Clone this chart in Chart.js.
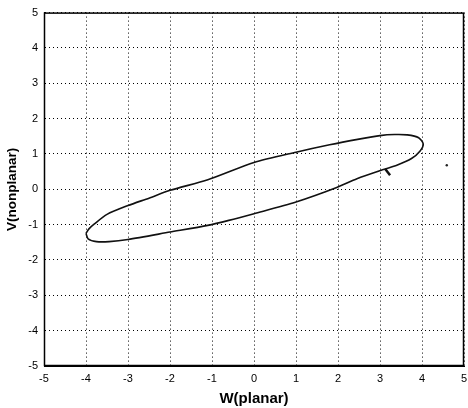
<!DOCTYPE html>
<html>
<head>
<meta charset="utf-8">
<script src="https://cdn.jsdelivr.net/npm/chart.js@4"></script>
<style>
  html, body { margin: 0; padding: 0; background: #fff; }
  #wrap { width: 468px; height: 408px; }
</style>
</head>
<body>
<div id="wrap"><canvas id="myChart"></canvas></div>
<script>
// traced curve, going round from the left end
const ellipseW = [-4.0, -3.93, -3.8, -3.5, -3.0, -2.5, -2.0, -1.1, 0.0, 1.0, 1.8, 2.5, 3.0, 3.35, 3.65, 3.92, 4.03, 3.95, 3.75, 3.4, 3.08, 2.45, 1.97, 1.0, 0.0, -0.6, -1.1, -2.0, -3.0, -3.45, -3.75, -3.95, -4.0];
const ellipseV = [-1.25, -1.12, -0.98, -0.71, -0.46, -0.25, -0.03, 0.27, 0.76, 1.05, 1.26, 1.42, 1.52, 1.55, 1.54, 1.46, 1.28, 1.08, 0.87, 0.68, 0.56, 0.30, 0.05, -0.36, -0.69, -0.88, -1.02, -1.21, -1.42, -1.48, -1.48, -1.40, -1.25];
// small stroke and stray dot
const markW = [3.12, 3.24];
const markV = [0.58, 0.40];
const dotW = [4.59];
const dotV = [0.68];

const xTicks = [-5, -4, -3, -2, -1, 0, 1, 2, 3, 4, 5];
const yTicks = [-5, -4, -3, -2, -1, 0, 1, 2, 3, 4, 5];

function pts(xs, ys) {
  return xs.map((x, i) => ({ x: x, y: ys[i] }));
}

const boxPlugin = {
  id: "box",
  afterDraw(chart) {
    const a = chart.chartArea;
    const c = chart.ctx;
    c.save();
    c.strokeStyle = "#000";
    c.lineWidth = 1.5;
    c.strokeRect(a.left + 0.5, a.top + 0.5, a.right - a.left - 1, a.bottom - a.top - 1);
    c.restore();
  },
};

const ctx = document.getElementById("myChart");

new Chart(ctx, {
  type: "scatter",
  data: {
    datasets: [
      {
        data: pts(ellipseW, ellipseV),
        showLine: true,
        borderColor: "#111",
        borderWidth: 1.6,
        pointRadius: 0,
        tension: 0.25,
      },
      {
        data: pts(markW, markV),
        showLine: true,
        borderColor: "#111",
        borderWidth: 2.5,
        pointRadius: 0,
      },
      {
        data: pts(dotW, dotV),
        backgroundColor: "#222",
        borderWidth: 0,
        pointRadius: 1.2,
      },
    ],
  },
  options: {
    responsive: true,
    maintainAspectRatio: false,
    animation: false,
    layout: { padding: { top: 12, right: 2, left: 0, bottom: 0 } },
    plugins: {
      legend: { display: false },
      tooltip: { enabled: false },
    },
    scales: {
      x: {
        type: "linear",
        min: -5,
        max: 5,
        afterBuildTicks: (s) => { s.ticks = xTicks.map((v) => ({ value: v })); },
        afterFit: (s) => { s.height = 42; s.paddingRight = 0; s.paddingLeft = 0; },
        grid: {
          color: "#000",
          lineWidth: 1,
          drawTicks: false,
        },
        border: { display: true, color: "#000", dash: [1, 3] },
        ticks: {
          color: "#000",
          padding: 6,
          font: { family: "Arial, Liberation Sans", size: 11 },
        },
        title: {
          display: true,
          text: "W(planar)",
          color: "#000",
          padding: { top: 1, bottom: 0 },
          font: { family: "Arial, Liberation Sans", size: 15, weight: "bold" },
        },
      },
      y: {
        type: "linear",
        min: -5,
        max: 5,
        afterBuildTicks: (s) => { s.ticks = yTicks.map((v) => ({ value: v })); },
        afterFit: (s) => { s.width = 44; },
        grid: {
          color: "#000",
          lineWidth: 1,
          drawTicks: false,
        },
        border: { display: true, color: "#000", dash: [1, 3] },
        ticks: {
          color: "#000",
          padding: 6,
          font: { family: "Arial, Liberation Sans", size: 11 },
        },
        title: {
          display: true,
          text: "V(nonplanar)",
          color: "#000",
          padding: { top: 4, bottom: 0 },
          font: { family: "Arial, Liberation Sans", size: 13.5, weight: "bold" },
        },
      },
    },
  },
  plugins: [boxPlugin],
});
</script>
</body>
</html>
